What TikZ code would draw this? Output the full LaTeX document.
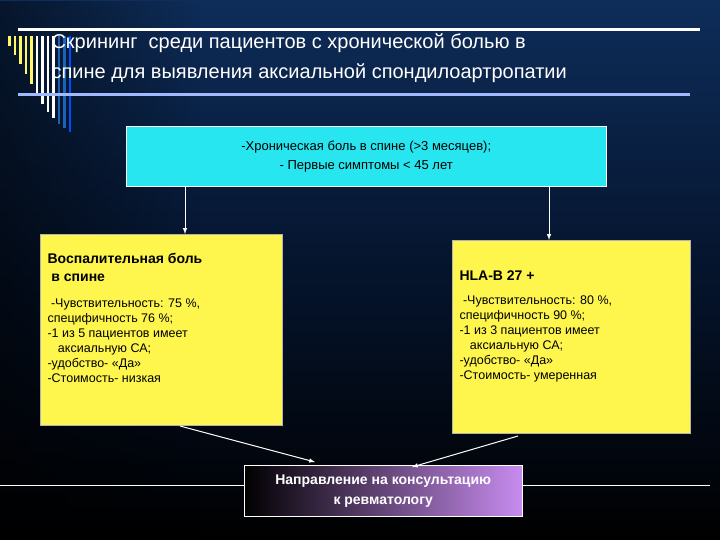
\documentclass[tikz,border=0pt]{standalone}
\usepackage{fontspec}
\setmainfont{Liberation Sans}
\usetikzlibrary{fadings}
\definecolor{bgtop}{RGB}{14,45,90}
\definecolor{bgmid}{RGB}{5,20,45}
\definecolor{lblue}{RGB}{160,185,255}
\definecolor{cybox}{RGB}{40,230,240}
\definecolor{purp}{RGB}{200,140,240}
\begin{document}
\begin{tikzpicture}[x=1pt,y=-1pt,
  ybox/.style={draw=gray!60,fill=yellow!70!white,line width=0.6pt,text=black,inner sep=4pt,anchor=north west,align=left},
  arr/.style={draw=white,line width=1pt,-latex},
  body/.style={font=\fontsize{12.5}{15}\selectfont}]
\useasboundingbox (0,0) rectangle (720,540);
\shade[top color=bgtop,bottom color=black,middle color=bgmid] (0,0) rectangle (720,540);
\fill[black,opacity=0.5,path fading=east] (0,0) rectangle (200,540);
% decorative bars
\foreach \i/\c/\b in {0/yellow!60/46,1/yellow!60/55,2/yellow!60/64,3/yellow!60/74,4/yellow!60/84,5/white/94,6/white/104,7/white/112,8/white/118,9/cyan!40!blue/124,10/cyan!40!blue/128,11/blue!70!cyan/132}
  \fill[\c] (8+5.5*\i,36) rectangle (10.5+5.5*\i,\b);
\draw[white,line width=3pt] (18,30) -- (700,30);
\node[anchor=west,text=white,font=\fontsize{20}{24}\selectfont] (t1) at (48,43) {Скрининг \ среди пациентов с хронической болью в};
\node[anchor=west,text=white,font=\fontsize{20}{24}\selectfont] (t2) at (48,73) {спине для выявления аксиальной спондилоартропатии};
\draw[lblue,line width=3pt] (18,95) -- (690,95);
\node[draw=white,fill=cybox,minimum width=480pt,minimum height=60pt,anchor=north west,align=center,font=\fontsize{13}{19}\selectfont] (top) at (126,126) {-Хроническая боль в спине (>3 месяцев);\\- Первые симптомы < 45 лет};
\draw[white] (0,485) -- (710,485);
\node[ybox,minimum width=242pt,minimum height=191pt] (L) at (40,234) {};
\node[anchor=north west,align=left,font=\bfseries\fontsize{14}{18}\selectfont] (Lh) at (44,250) {Воспалительная боль\\\ в спине};
\node[anchor=north west,align=left,body] (Lb) at (44,295) {\ -Чувствительность: 75 \%,\\специфичность 76 \%;\\-1 из 5 пациентов имеет\\\ \ \ аксиальную СА;\\-удобство- «Да»\\-Стоимость- низкая};
\node[ybox,minimum width=238pt,minimum height=193pt] (R) at (452,240) {};
\node[anchor=north west,align=left,font=\bfseries\fontsize{14}{18}\selectfont] (Rh) at (456,267) {HLA-B 27 +};
\node[anchor=north west,align=left,body] (Rb) at (456,292) {\ -Чувствительность: 80 \%,\\специфичность 90 \%;\\-1 из 3 пациентов имеет\\\ \ \ аксиальную СА;\\-удобство- «Да»\\-Стоимость- умеренная};
\shade[left color=black,right color=purp] (244,465) rectangle (522,516);
\node[draw=white,minimum width=278pt,minimum height=51pt,anchor=north west,align=center,text=white,font=\bfseries\fontsize{14}{20}\selectfont] (B) at (244,465) {Направление на консультацию\\к ревматологу};
\coordinate (a1) at (185,186); \coordinate (a2) at (549,186);
\draw[arr] (a1) -- (L.north -| a1);
\draw[arr] (a2) -- (R.north -| a2);
\coordinate (c1) at (180,426); \coordinate (c2) at (315,462);
\coordinate (d1) at (518,436); \coordinate (d2) at (412,467);
\draw[arr] (c1) -- (c2);
\draw[arr] (d1) -- (d2);
\end{tikzpicture}
\end{document}
